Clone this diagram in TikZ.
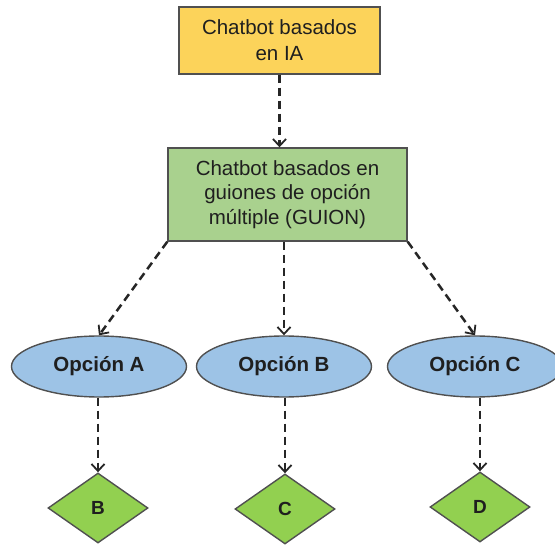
\documentclass[tikz,border=0pt]{standalone}
\usepackage{fontspec}
\setmainfont{Liberation Sans}
\usetikzlibrary{shapes.geometric,arrows.meta}
\definecolor{boxyellow}{HTML}{FCD35A}
\definecolor{boxgreen}{HTML}{A9D18E}
\definecolor{optblue}{HTML}{9DC3E6}
\definecolor{leafgreen}{HTML}{92D050}
\definecolor{edgegray}{HTML}{505050}
\begin{document}
\begin{tikzpicture}[x=1pt,y=-1pt,
  basebox/.style={draw=edgegray,line width=1.4pt,inner sep=0pt,align=center,text=black!88},
  topbox/.style={basebox,rectangle,fill=boxyellow,minimum width=201pt,minimum height=67pt,font=\fontsize{20.5}{26}\selectfont},
  guionbox/.style={basebox,rectangle,fill=boxgreen,minimum width=239pt,minimum height=93pt,font=\fontsize{20.5}{24.5}\selectfont},
  optell/.style={basebox,ellipse,fill=optblue,minimum width=175pt,minimum height=61pt,font=\fontsize{20.5}{24}\selectfont\bfseries},
  leaf/.style={basebox,diamond,fill=leafgreen,minimum width=100pt,minimum height=70pt,font=\fontsize{19}{22}\selectfont\bfseries},
  arr/.style={draw=black!85,line width=2.5pt,dash pattern=on 8pt off 5pt,-{Straight Barb[length=7pt,width=13pt,line width=1.8pt]}}
]
\useasboundingbox (0,0) rectangle (555,545);
\node[topbox] (top) at (279.5,40.5) {Chatbot basados\\en IA};
\node[guionbox] (guion) at (287.5,194.5) {Chatbot basados en\\guiones de opción\\múltiple (GUION)};
\node[optell] (ea) at (99,366.5) {Opción A};
\node[optell] (eb) at (284,366.5) {Opción B};
\node[optell] (ec) at (475,366.5) {Opción C};
\node[leaf] (da) at (98,508) {B};
\node[leaf] (db) at (285,509) {C};
\node[leaf] (dc) at (480,507) {D};
\draw[arr] (top.south) -- (top.south |- guion.north);
\draw[arr] (guion.south west) -- (ea.north);
\draw[arr] (eb.north |- guion.south) -- (eb.north);
\draw[arr] (guion.south east) -- (ec.north);
\draw[arr] (da.north |- ea.south) -- (da.north);
\draw[arr] (db.north |- eb.south) -- (db.north);
\draw[arr] (dc.north |- ec.south) -- (dc.north);
\end{tikzpicture}
\end{document}
